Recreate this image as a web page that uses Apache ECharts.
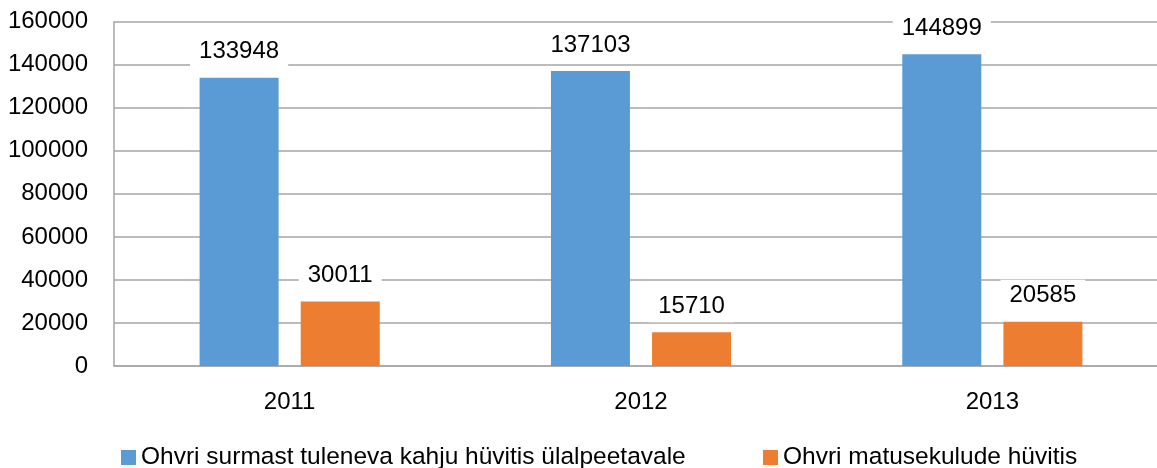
<!DOCTYPE html>
<html>
<head>
<meta charset="utf-8">
<script src="https://cdn.jsdelivr.net/npm/echarts@6/dist/echarts.min.js"></script>
<style>html,body{margin:0;padding:0;background:#fff}#c{width:1157px;height:468px}</style>
</head>
<body>
<div id="c"></div>
<script>
const categories = ['2011', '2012', '2013'];
const seriesNames = ['Ohvri surmast tuleneva kahju hüvitis ülalpeetavale', 'Ohvri matusekulude hüvitis'];
const dependantValues = [133948, 137103, 144899];
const funeralValues = [30011, 15710, 20585];
const yTicks = { min: 0, max: 160000, interval: 20000 };

const FONT = 'Liberation Sans';
const chart = echarts.init(document.getElementById('c'));
const labelCfg = {
  show: true, position: 'top', distance: 10,
  backgroundColor: '#fff', padding: [3, 9],
  color: '#000', fontFamily: FONT, fontSize: 24, lineHeight: 26
};
const legendText = { fontFamily: FONT, fontSize: 24.5, color: '#000' };
chart.setOption({
  animation: false,
  textStyle: { fontFamily: FONT },
  grid: { left: 114, width: 1054, top: 21.7, bottom: 102, outerBoundsMode: 'none', containLabel: false },
  legend: [
    { data: [seriesNames[0]], left: 121, top: 445, padding: 0, icon: 'rect', itemWidth: 15, itemHeight: 15,
      textStyle: legendText },
    { data: [seriesNames[1]], left: 763, top: 445, padding: 0, icon: 'rect', itemWidth: 15, itemHeight: 15,
      textStyle: legendText }
  ],
  xAxis: {
    type: 'category', data: categories,
    axisLine: { lineStyle: { color: '#A6A6A6', width: 1.5 } },
    axisTick: { show: false },
    axisLabel: { color: '#000', fontFamily: FONT, fontSize: 24, margin: 24 }
  },
  yAxis: {
    type: 'value', min: yTicks.min, max: yTicks.max, interval: yTicks.interval,
    axisLine: { show: true, lineStyle: { color: '#A6A6A6', width: 1.5 } },
    axisTick: { show: false },
    splitLine: { lineStyle: { color: '#A6A6A6', width: 1.5 } },
    axisLabel: { color: '#000', fontFamily: FONT, fontSize: 24, margin: 26, formatter: v => String(v) }
  },
  series: [
    { name: seriesNames[0], type: 'bar', data: dependantValues, barWidth: 79, barGap: '28%',
      itemStyle: { color: '#5B9BD5' }, label: labelCfg },
    { name: seriesNames[1], type: 'bar', data: funeralValues, barWidth: 79, barGap: '28%',
      itemStyle: { color: '#ED7D31' }, label: labelCfg }
  ]
});
</script>
</body>
</html>
